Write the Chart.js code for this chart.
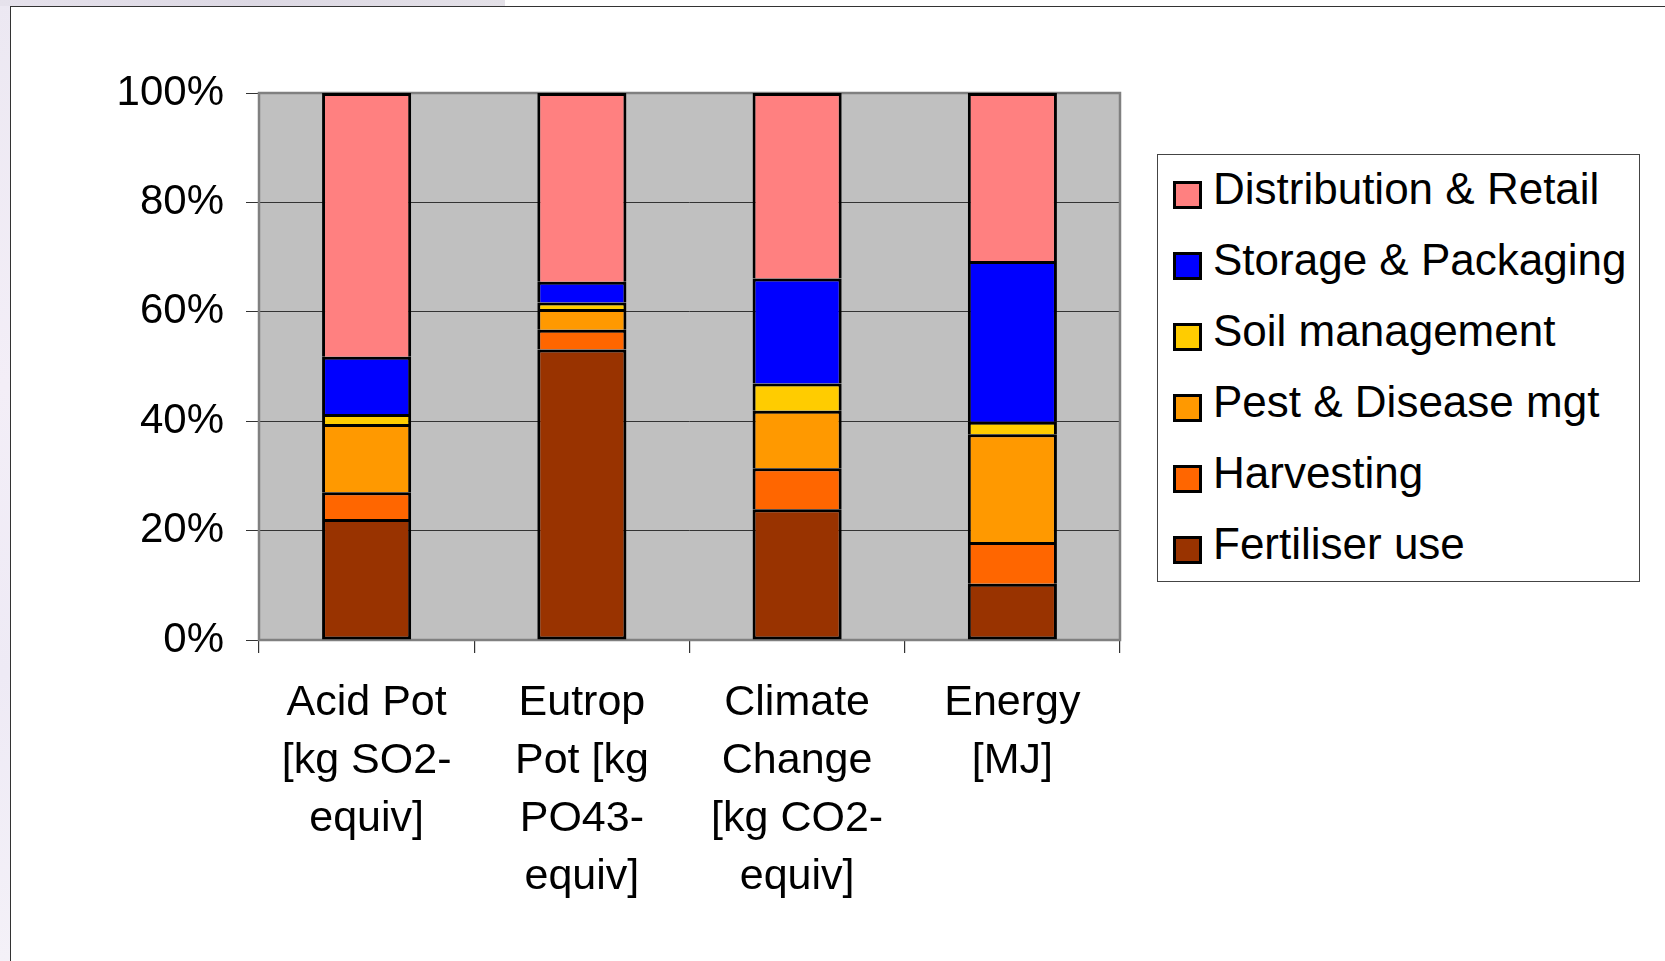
<!DOCTYPE html>
<html>
<head>
<meta charset="utf-8">
<script src="https://cdn.jsdelivr.net/npm/chart.js@4.4.1/dist/chart.umd.min.js"></script>
<style>
  html, body { margin: 0; padding: 0; width: 1665px; height: 961px; overflow: hidden; background: #ffffff; }
  #leftHaze { position: absolute; left: 0; top: 0; width: 10px; height: 961px;
    background: linear-gradient(to bottom, #ece8f2, #f3eef7 40%, #eeeaf5 70%, #f4f1f8); }
  #topHaze { position: absolute; left: 0; top: 0; width: 505px; height: 6px;
    background: linear-gradient(to right, #e6e2ec, #ddd9e4 50%, #e4e1e8); }
  #frame { position: absolute; left: 10px; top: 6px; width: 1700px; height: 1000px;
    border: 1.5px solid #333; background: #fff; }
  #c { position: absolute; left: 0; top: 0; }
  #legend { position: absolute; left: 1157px; top: 154px; width: 483px; height: 428px;
    border: 1.5px solid #444; background: #fff; box-sizing: border-box;
    font-family: "Liberation Sans", Arial, sans-serif; font-size: 44px; color: #000; }
  .row { position: absolute; left: 0; height: 50px; line-height: 50px; white-space: nowrap; }
  .sw { position: absolute; left: 15px; top: 17px; width: 29px; height: 28px; box-sizing: border-box; border: 3px solid #000; }
  .tx { position: absolute; left: 55px; top: 0; }
</style>
</head>
<body>
<div id="leftHaze"></div>
<div id="topHaze"></div>
<div id="frame"></div>
<canvas id="c" width="1665" height="961"></canvas>
<div id="legend"></div>
<script>
// ---- data ----
const categories = [
  ["Acid Pot", "[kg SO2-", "equiv]"],
  ["Eutrop", "Pot [kg", "PO43-", "equiv]"],
  ["Climate", "Change", "[kg CO2-", "equiv]"],
  ["Energy", "[MJ]"]
];
const seriesNames = ["Fertiliser use", "Harvesting", "Pest & Disease mgt", "Soil management", "Storage & Packaging", "Distribution & Retail"];
const fertiliser   = [22.1, 53.1, 23.9, 10.3];
const harvesting   = [4.9, 3.6, 7.5, 7.6];
const pestDisease  = [12.5, 3.8, 10.5, 19.7];
const soilMgmt     = [1.8, 1.2, 5.0, 2.3];
const storagePack  = [10.5, 3.8, 19.2, 29.4];
const distribRetail= [48.2, 34.5, 33.9, 30.7];
const yTickValues = [0, 20, 40, 60, 80, 100];
const yTickSuffix = "%";

const seriesValues = [fertiliser, harvesting, pestDisease, soilMgmt, storagePack, distribRetail];
const seriesColors = ["#993300", "#FF6600", "#FF9900", "#FFCC00", "#0000FF", "#FF8080"];

const FONT = '"Liberation Sans", Arial, sans-serif';

const plotBg = {
  id: 'plotBg',
  beforeDraw(chart) {
    const {ctx, chartArea: a} = chart;
    ctx.save();
    ctx.fillStyle = '#C0C0C0';
    ctx.fillRect(a.left, a.top, a.right - a.left, a.bottom - a.top);
    ctx.restore();
  },
  beforeDatasetsDraw(chart) {
    const {ctx, chartArea: a} = chart;
    ctx.save();
    ctx.strokeStyle = '#808080';
    ctx.lineWidth = 2.5;
    ctx.strokeRect(a.left, a.top, a.right - a.left, a.bottom - a.top);
    ctx.restore();
  }
};

const datasets = seriesNames.map((name, i) => ({
  label: name,
  data: seriesValues[i],
  backgroundColor: seriesColors[i],
  borderColor: '#000000',
  borderWidth: 3,
  borderSkipped: i === 0 ? false : 'start',
  barPercentage: 0.414,
  categoryPercentage: 1.0
}));

new Chart(document.getElementById('c'), {
  type: 'bar',
  data: { labels: categories, datasets },
  options: {
    responsive: false,
    animation: false,
    devicePixelRatio: 1,
    layout: { padding: { left: 0, top: 93, right: 545, bottom: 0 } },
    plugins: { legend: { display: false }, tooltip: { enabled: false } },
    scales: {
      x: {
        stacked: true,
        grid: { offset: true, drawOnChartArea: false, drawTicks: true, tickLength: 13, color: '#333', lineWidth: 1.2 },
        border: { display: false },
        ticks: { color: '#000', font: { family: FONT, size: 43, lineHeight: '58px' }, padding: 21, maxRotation: 0, autoSkip: false },
        afterFit(scale) { scale.height = 961 - 640; }
      },
      y: {
        stacked: true,
        min: 0, max: 100,
        afterBuildTicks(scale) { scale.ticks = yTickValues.map(v => ({ value: v })); },
        grid: { color: '#333', lineWidth: 1, tickLength: 13, drawTicks: true },
        border: { display: false },
        ticks: { color: '#000', font: { family: FONT, size: 42 }, padding: 22,
          callback: (v) => v + yTickSuffix },
        afterFit(scale) { scale.width = 259; }
      }
    }
  },
  plugins: [plotBg]
});

// ---- legend (HTML, reversed order) ----
const legend = document.getElementById('legend');
const order = seriesNames.map((_, i) => i).reverse();
order.forEach((si, k) => {
  const row = document.createElement('div');
  row.className = 'row';
  row.style.top = (8.5 + k * 71) + 'px';
  const sw = document.createElement('div');
  sw.className = 'sw';
  sw.style.background = seriesColors[si];
  const tx = document.createElement('div');
  tx.className = 'tx';
  tx.textContent = seriesNames[si];
  row.appendChild(sw); row.appendChild(tx);
  legend.appendChild(row);
});
</script>
</body>
</html>
